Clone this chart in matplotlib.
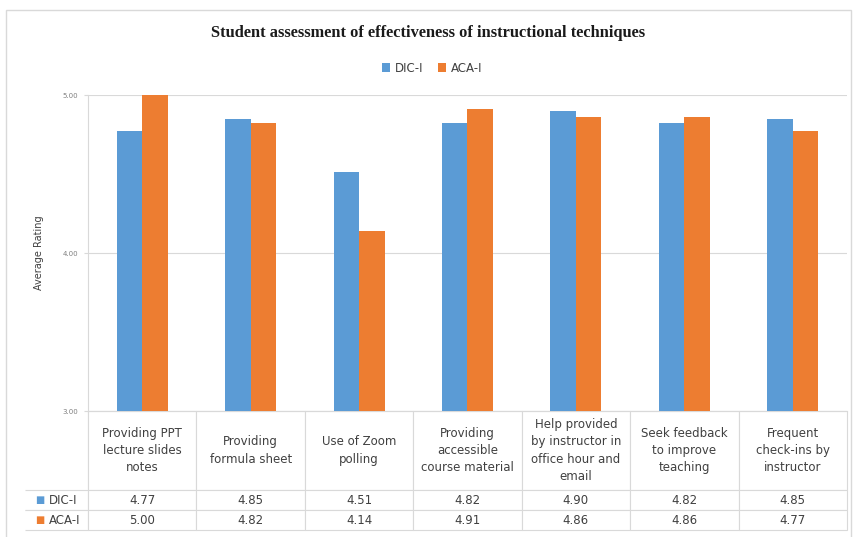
import numpy as np
import matplotlib.pyplot as plt
from matplotlib.patches import Rectangle

categories = ["Providing PPT\nlecture slides\nnotes",
              "Providing\nformula sheet",
              "Use of Zoom\npolling",
              "Providing\naccessible\ncourse material",
              "Help provided\nby instructor in\noffice hour and\nemail",
              "Seek feedback\nto improve\nteaching",
              "Frequent\ncheck-ins by\ninstructor"]
series = ["DIC-I", "ACA-I"]
dic_i = [4.77, 4.85, 4.51, 4.82, 4.90, 4.82, 4.85]
aca_i = [5.00, 4.82, 4.14, 4.91, 4.86, 4.86, 4.77]
yticks = [3.00, 4.00, 5.00]

colors = ["#5B9BD5", "#ED7D31"]
grid_c = "#d9d9d9"
text_c = "#404040"
W, H = 854, 537

fig = plt.figure(figsize=(W / 100, H / 100), dpi=100)
fig.patch.set_facecolor("white")

# plot area in pixels
left, right, top, bottom = 88, 847, 95, 411
ax = fig.add_axes([left / W, 1 - bottom / H, (right - left) / W, (bottom - top) / H])

x = np.arange(len(categories))
bw = 0.235
ax.bar(x - bw / 2, dic_i, width=bw, color=colors[0], label=series[0], zorder=3)
ax.bar(x + bw / 2, aca_i, width=bw, color=colors[1], label=series[1], zorder=3)

ax.set_xlim(-0.5, len(categories) - 0.5)
ax.set_ylim(3, 5)
ax.set_yticks(yticks)
ax.set_yticklabels([f"{v:.2f}" for v in yticks], fontsize=5, color="#7f7f7f")
ax.set_xticks([])
ax.tick_params(axis="y", length=3, color=grid_c, pad=4)
ax.yaxis.grid(True, color=grid_c, linewidth=0.8, zorder=0)
for s in ["top", "right"]:
    ax.spines[s].set_visible(False)
ax.spines["left"].set_color(grid_c)
ax.spines["bottom"].set_color(grid_c)
ax.set_ylabel("Average Rating", fontsize=7, color=text_c, labelpad=13)

# data table under the axis (Excel style)
axh = bottom - top
axw = right - left
head_h, row_h = 79, 20
lab_w = (left - 25) / axw
cell_text = [[""] + categories,
             [series[0]] + [f"{v:.2f}" for v in dic_i],
             [series[1]] + [f"{v:.2f}" for v in aca_i]]
tab_h = (head_h + 2 * row_h) / axh
tbl = ax.table(cellText=cell_text, cellLoc="center",
               colWidths=[lab_w] + [1 / len(categories)] * len(categories),
               bbox=[-lab_w, -tab_h, 1 + lab_w, tab_h])
tbl.auto_set_font_size(False)
for (r, c), cell in tbl.get_celld().items():
    cell.set_edgecolor(grid_c)
    cell.set_linewidth(0.8)
    cell.set_height(head_h if r == 0 else row_h)
    t = cell.get_text()
    t.set_fontsize(8.5)
    t.set_color(text_c)
    t.set_linespacing(1.42)
    if c == 0:
        cell.visible_edges = "R" if r == 0 else "TBR"
        t.set_horizontalalignment("left")
        cell.PAD = 24 / (left - 25)

# coloured keys in the row label column
for i, col in enumerate(colors):
    yc = -(head_h + row_h * (i + 0.5)) / axh
    ax.text(-(left - 35) / axw, yc, "\u25A0", color=col, fontsize=7,
            transform=ax.transAxes, ha="left", va="center")

fig.text(428 / W, 1 - 33 / H, "Student assessment of effectiveness of instructional techniques",
         fontsize=11.8, fontweight="bold", family="Liberation Serif", ha="center", va="center",
         color="#1a1a1a")
fig.legend(loc="center", bbox_to_anchor=(432 / W, 1 - 68 / H), ncol=2, frameon=False,
           fontsize=8.5, handlelength=0.7, handleheight=0.7, handletextpad=0.4,
           columnspacing=1.2, labelcolor=text_c)

# outer chart border
fig.add_artist(Rectangle((6 / W, -0.01), (851 - 6) / W, 1 - 10 / H + 0.01,
                         transform=fig.transFigure, fill=False, edgecolor=grid_c, linewidth=1))

fig.savefig("out.png", dpi=100)
